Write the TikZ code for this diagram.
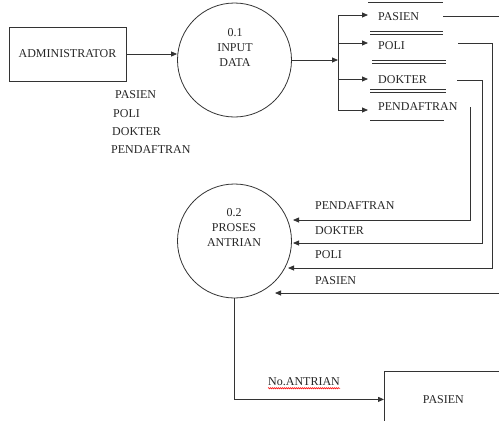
\documentclass[tikz,border=0pt]{standalone}
\usepackage{fontspec}
\setmainfont{Liberation Serif}
\usetikzlibrary{arrows.meta,decorations.pathmorphing,calc}
\begin{document}
\begin{tikzpicture}[x=1pt,y=-1pt,
  every node/.style={font=\fontsize{12}{15}\selectfont, inner sep=0pt, text=black!85},
  line/.style={draw=black!80, line width=0.8pt},
  arr/.style={line, -{Triangle[length=6pt,width=5pt]}},
  proc/.style={circle, draw=black!80, line width=0.8pt, minimum size=114pt},
  ent/.style={rectangle, draw=black!80, line width=0.8pt},
  lbl/.style={anchor=west},
  ptext/.style={align=center}]
\useasboundingbox (0,0) rectangle (499,421);

% entities and processes
\node[ent, minimum width=117pt, minimum height=54pt] (admin) at (67.5,54) {ADMINISTRATOR};
\node[proc] (p1) at (234.5,60) {};
\node[ptext] (p1t) at (235,48) {0.1\\INPUT\\DATA};
\node[proc] (p2) at (234.5,241) {};
\node[ptext] (p2t) at (234,228) {0.2\\PROSES\\ANTRIAN};
\node[ent, anchor=north west, minimum width=118pt, minimum height=56pt] (pb) at (384,371) {PASIEN};

% labels under administrator
\node[lbl] (la1) at (115,95) {PASIEN};
\node[lbl] (la2) at (113,114) {POLI};
\node[lbl] (la3) at (112,132) {DOKTER};
\node[lbl] (la4) at (111,150) {PENDAFTRAN};

% admin -> input data
\draw[arr] (admin.east) -- (p1.west |- admin.east);

% input data -> branch
\coordinate (br) at (338,60);
\draw[arr] (p1.east) -- (br);
\coordinate (b1) at (338,15);
\coordinate (b2) at (338,43);
\coordinate (b3) at (338,79);
\coordinate (b4) at (338,110);
\draw[line] (b1) -- (b4);

% data stores
\node[lbl] (s1) at (378,17) {PASIEN};
\node[lbl] (s2) at (378,46) {POLI};
\node[lbl] (s3) at (378,80) {DOKTER};
\node[lbl] (s4) at (378,107) {PENDAFTRAN};
\coordinate (t1) at (368,15);
\coordinate (t2) at (368,43);
\coordinate (t3) at (368,79);
\coordinate (t4) at (368,110);
\draw[arr] (b1) -- (t1);
\draw[arr] (b2) -- (t2);
\draw[arr] (b3) -- (t3);
\draw[arr] (b4) -- (t4);

\draw[line] (368,2) -- (443,2);
\draw[line] (370,31) -- (443,31);
\draw[line] (370,34) -- (443,34);
\draw[line] (372,60) -- (446,60);
\draw[line] (372,63) -- (446,63);
\draw[line] (370,89) -- (446,89);
\draw[line] (370,92) -- (446,92);
\draw[line] (370,120) -- (444,120);

% flows from stores to proses antrian
\coordinate (e1) at (293,220);
\coordinate (e2) at (293,243);
\coordinate (e3) at (288,268);
\coordinate (e4) at (275,293);
\draw[arr] (470,107) -- (470,220) -- (e1);
\draw[arr] (457,80) -- (482,80) -- (482,243) -- (e2);
\draw[arr] (458,43) -- (492,43) -- (492,268) -- (e3);
\draw[arr] (443,16) -- (503,16) -- (503,293) -- (e4);

\node[lbl] (r1) at (315,206) {PENDAFTRAN};
\node[lbl] (r2) at (315,231) {DOKTER};
\node[lbl] (r3) at (315,255) {POLI};
\node[lbl] (r4) at (315,281) {PASIEN};

% output
\draw[arr] (p2.south) |- (pb.west);
\node[lbl] (na) at (268,382) {No.ANTRIAN};
\draw[red, line width=0.5pt, decorate, decoration={snake, amplitude=0.7pt, segment length=2pt}]
  ($(na.south west)+(0,2)$) -- ($(na.south east)+(0,2)$);
\end{tikzpicture}
\end{document}
